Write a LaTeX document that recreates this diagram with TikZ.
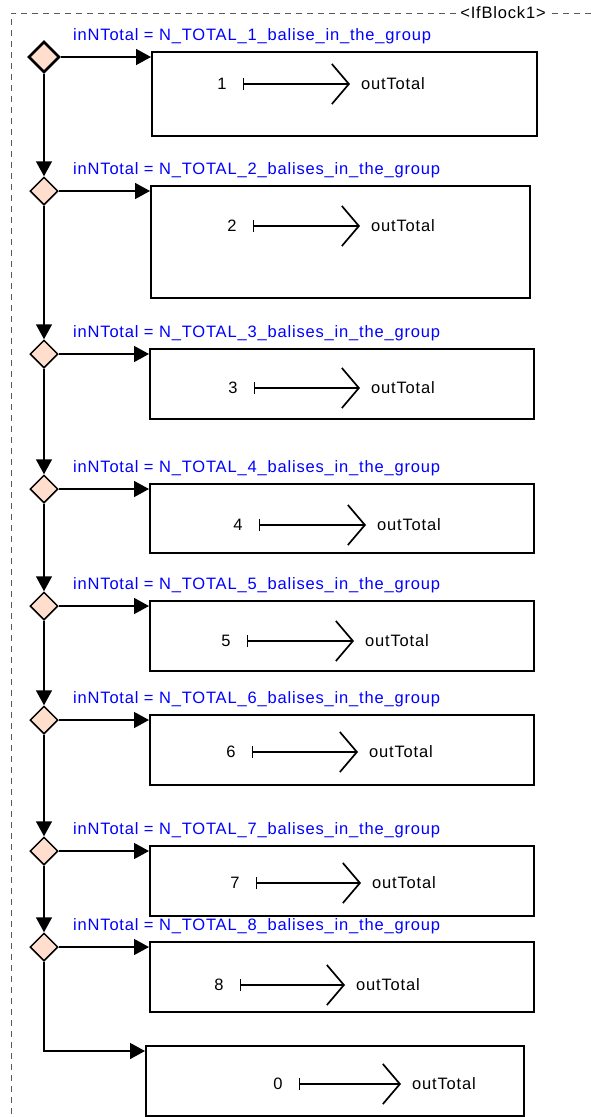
\documentclass[tikz,border=0pt]{standalone}
\usepackage{fontspec}
\setmainfont{Liberation Sans}[LetterSpace=5]
\usetikzlibrary{shapes,arrows.meta}
\definecolor{peach}{RGB}{255,222,206}

\begin{document}
\begin{tikzpicture}[x=1pt, y=-1pt,
  every node/.style = {font=\fontsize{16.5}{19}\selectfont, inner sep=0pt},
  cond/.style = {diamond, draw, fill=peach, line width=1.5pt,
    minimum width=28pt, minimum height=28pt},
  actbox/.style = {draw, line width=1.7pt, anchor=north west},
  guard/.style = {anchor=west, text=blue},
  flow/.style = {line width=1.5pt, -{Triangle[length=15pt,width=16pt]}},
  assign/.style = {line width=1.3pt,
    {Bar[width=12pt]}-{Straight Barb[length=17pt,width=40pt,line width=1.7pt]}},
  frame/.style = {draw=black!65, line width=1pt, dash pattern=on 6pt off 5pt}]
  \useasboundingbox (0,0) rectangle (591,1117);

  % if block frame
  \node (blk) at (503,13) {<IfBlock1>};
  \draw[frame] ([xshift=-4pt]blk.west) -- (11,13) -- (11,1117);
  \draw[frame] ([xshift=6pt]blk.east) -- (591,13);

  % branches
  \node[cond, line width=2.6pt, minimum width=31pt, minimum height=31pt] (d1) at (44,57) {};
  \node[cond] (d2) at (44,191) {};
  \node[cond] (d3) at (44,354) {};
  \node[cond] (d4) at (44,489) {};
  \node[cond] (d5) at (44,606) {};
  \node[cond] (d6) at (44,720) {};
  \node[cond] (d7) at (44,851) {};
  \node[cond] (d8) at (44,947) {};

  \node[guard] (g1) at (73,36) {inNTotal = N\_TOTAL\_1\_balise\_in\_the\_group};
  \node[guard] (g2) at (73,170) {inNTotal = N\_TOTAL\_2\_balises\_in\_the\_group};
  \node[guard] (g3) at (73,333) {inNTotal = N\_TOTAL\_3\_balises\_in\_the\_group};
  \node[guard] (g4) at (73,468) {inNTotal = N\_TOTAL\_4\_balises\_in\_the\_group};
  \node[guard] (g5) at (73,585) {inNTotal = N\_TOTAL\_5\_balises\_in\_the\_group};
  \node[guard] (g6) at (73,699) {inNTotal = N\_TOTAL\_6\_balises\_in\_the\_group};
  \node[guard] (g7) at (73,830) {inNTotal = N\_TOTAL\_7\_balises\_in\_the\_group};
  \node[guard] (g8) at (73,926) {inNTotal = N\_TOTAL\_8\_balises\_in\_the\_group};

  % action boxes
  \node[actbox, minimum width=385pt, minimum height=84pt] (b1) at (151,51) {};
  \node[actbox, minimum width=379pt, minimum height=112pt] (b2) at (150,185) {};
  \node[actbox, minimum width=384pt, minimum height=70pt] (b3) at (149,348) {};
  \node[actbox, minimum width=384pt, minimum height=69pt] (b4) at (149,483) {};
  \node[actbox, minimum width=384pt, minimum height=70pt] (b5) at (149,600) {};
  \node[actbox, minimum width=384pt, minimum height=70pt] (b6) at (149,714) {};
  \node[actbox, minimum width=384pt, minimum height=70pt] (b7) at (149,845) {};
  \node[actbox, minimum width=384pt, minimum height=70pt] (b8) at (149,941) {};
  \node[actbox, minimum width=378pt, minimum height=70pt] (b0) at (145,1045) {};

  % control flow
  \draw[flow] (d1) -- (d1 -| b1.west);
  \draw[flow] (d2) -- (d2 -| b2.west);
  \draw[flow] (d3) -- (d3 -| b3.west);
  \draw[flow] (d4) -- (d4 -| b4.west);
  \draw[flow] (d5) -- (d5 -| b5.west);
  \draw[flow] (d6) -- (d6 -| b6.west);
  \draw[flow] (d7) -- (d7 -| b7.west);
  \draw[flow] (d8) -- (d8 -| b8.west);
  \draw[flow] (d1.south) -- (d2.north);
  \draw[flow] (d2.south) -- (d3.north);
  \draw[flow] (d3.south) -- (d4.north);
  \draw[flow] (d4.south) -- (d5.north);
  \draw[flow] (d5.south) -- (d6.north);
  \draw[flow] (d6.south) -- (d7.north);
  \draw[flow] (d7.south) -- (d8.north);
  \draw[flow] (d8.south) |- ([yshift=-6pt]b0.north west);

  % assignments
  \node (v1) at (222,84) {1};   \node[anchor=west] (o1) at (361,84) {outTotal};
  \node (v2) at (232,226) {2};  \node[anchor=west] (o2) at (371,226) {outTotal};
  \node (v3) at (233,388) {3};  \node[anchor=west] (o3) at (371,388) {outTotal};
  \node (v4) at (238,525) {4};  \node[anchor=west] (o4) at (377,525) {outTotal};
  \node (v5) at (226,641) {5};  \node[anchor=west] (o5) at (365,641) {outTotal};
  \node (v6) at (231,752) {6};  \node[anchor=west] (o6) at (369,752) {outTotal};
  \node (v7) at (235,883) {7};  \node[anchor=west] (o7) at (372,883) {outTotal};
  \node (v8) at (219,985) {8};  \node[anchor=west] (o8) at (356,985) {outTotal};
  \node (v0) at (278,1084) {0}; \node[anchor=west] (o0) at (412,1084) {outTotal};
  \draw[assign] ([xshift=16pt]v1.east) -- ([xshift=-11pt]o1.west);
  \draw[assign] ([xshift=16pt]v2.east) -- ([xshift=-11pt]o2.west);
  \draw[assign] ([xshift=16pt]v3.east) -- ([xshift=-11pt]o3.west);
  \draw[assign] ([xshift=16pt]v4.east) -- ([xshift=-11pt]o4.west);
  \draw[assign] ([xshift=16pt]v5.east) -- ([xshift=-11pt]o5.west);
  \draw[assign] ([xshift=16pt]v6.east) -- ([xshift=-11pt]o6.west);
  \draw[assign] ([xshift=16pt]v7.east) -- ([xshift=-11pt]o7.west);
  \draw[assign] ([xshift=16pt]v8.east) -- ([xshift=-11pt]o8.west);
  \draw[assign] ([xshift=16pt]v0.east) -- ([xshift=-11pt]o0.west);
\end{tikzpicture}
\end{document}
